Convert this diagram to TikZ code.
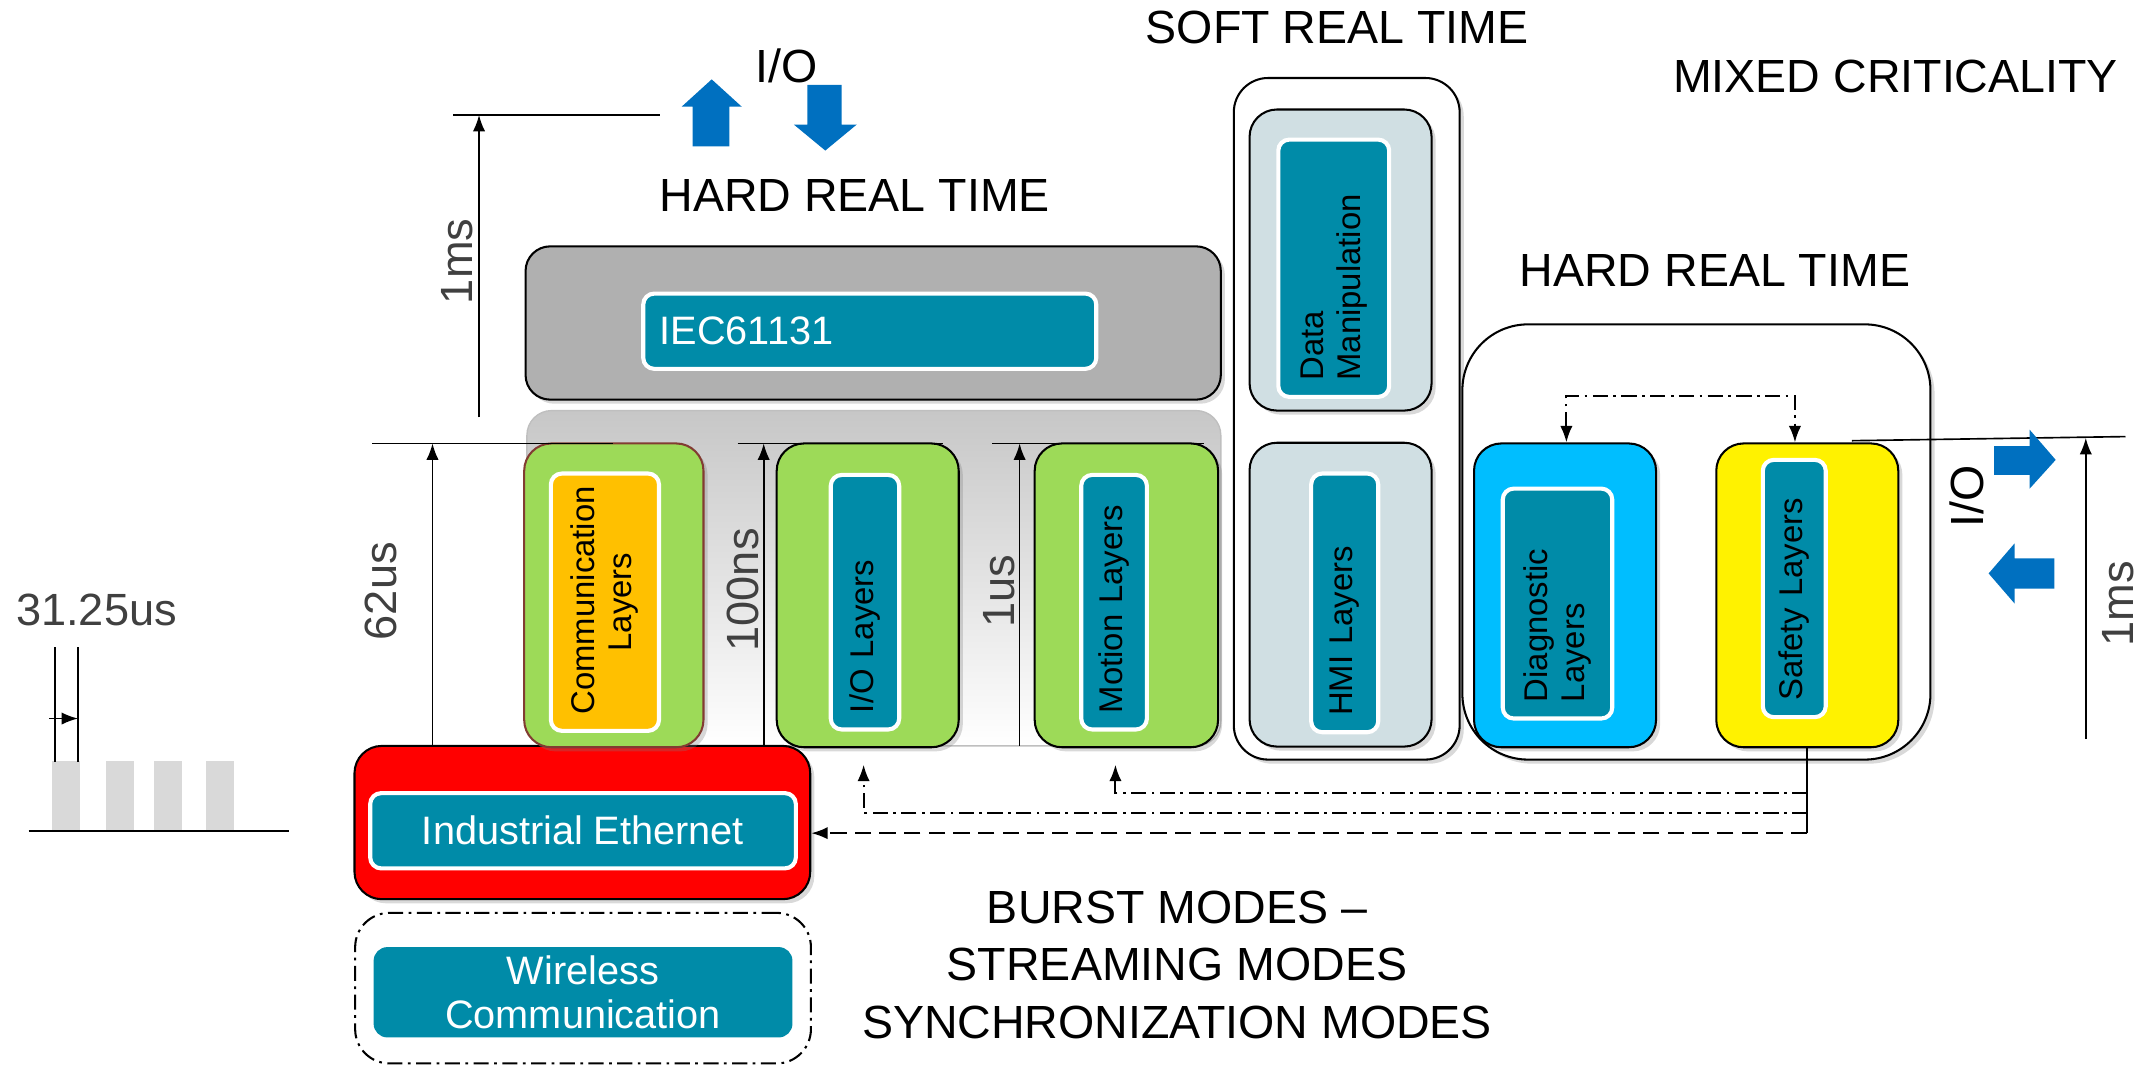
\documentclass[tikz,border=0pt]{standalone}
\usepackage{fontspec}
\setmainfont{Liberation Sans}
\usetikzlibrary{arrows.meta,shadows}
\definecolor{tealfill}{RGB}{0,139,168}
\definecolor{greenfill}{RGB}{157,218,88}
\definecolor{orangefill}{RGB}{255,192,0}
\definecolor{grayfill}{RGB}{176,176,176}
\definecolor{hmifill}{RGB}{208,223,227}
\definecolor{cyanfill}{RGB}{0,190,255}
\definecolor{iofill}{RGB}{0,112,192}
\definecolor{dimtext}{RGB}{64,64,64}
\definecolor{barfill}{RGB}{217,217,217}
\definecolor{commedge}{RGB}{130,60,50}
\newcommand\hdfont{\fontsize{34}{42}\selectfont}
\newcommand\dmfont{\fontsize{33}{38}\selectfont}
\newcommand\bxfont{\fontsize{29}{32}\selectfont}
\newcommand\lyfont{\fontsize{24}{27}\selectfont}
\begin{document}
\begin{tikzpicture}[x=1pt,y=-1pt,
    shadebox/.style={drop shadow={opacity=0.3,shadow xshift=3pt,shadow yshift=-3pt}},
    casebox/.style={draw,fill=white,line width=1.5pt,rounded corners=#1,shadebox,inner sep=0pt},
    layerbox/.style={draw,line width=1.5pt,rounded corners=20pt,shadebox,inner sep=0pt},
    inlaybox/.style={fill=tealfill,draw=white,line width=3pt,rounded corners=8pt,inner sep=0pt},
    vlaybox/.style={inlaybox,rotate=90,inner xsep=12pt,align=left,font=\lyfont},
    headtext/.style={font=\hdfont},
    dimlabel/.style={font=\dmfont,text=dimtext,rotate=90},
    dimline/.style={line width=1.2pt},
    linktip/.style={-{Latex[length=12pt,width=9pt]}},
    dimarrow/.style={dimline,linktip},
    dashline/.style={line width=1.5pt,dash pattern=on 12pt off 6pt,linktip},
    dashdotline/.style={line width=1.5pt,dash pattern=on 11pt off 4pt on 2pt off 4pt}]
    \useasboundingbox (0,0) rectangle (1568,778);
    \foreach \bx in {38,77.5,112.5,150.5}
        \fill[barfill] (\bx,556) rectangle ++(20.5,51);
    \draw[dimline] (21,607) -- (211,607);
    \draw[dimline] (40,473) -- (40,557) (57,473) -- (57,557);
    \draw[dimarrow] (36,525) -- (57,525);
    \node[font=\dmfont,text=dimtext] (cycle) at (70.5,446) {31.25us};

    \node[draw=black!25,line width=1pt,rounded corners=18pt,top color=black!22,middle color=white,bottom color=white,minimum width=507pt,minimum height=245pt,inner sep=0pt] (stack) at (638.5,422.5) {};
    \node[layerbox,fill=red,minimum width=333pt,minimum height=112pt] (ether) at (425.5,601) {};
    \node[inlaybox,minimum width=311pt,minimum height=55pt,font=\bxfont,text=white] (etherin) at (426,607) {Industrial Ethernet};
    \node[layerbox,fill=greenfill,draw=commedge,minimum width=131pt,minimum height=222pt] (comm) at (448.5,435) {};
    \node[vlaybox,fill=orangefill,align=center,minimum width=188pt,minimum height=79pt,text width=164pt] (commin) at (442,440) {Communication\\Layers};
    \node[layerbox,fill=greenfill,minimum width=133pt,minimum height=222pt] (io) at (634,435) {};
    \node[vlaybox,minimum width=186pt,minimum height=50pt,text width=162pt] (ioin) at (632,440) {I/O Layers};
    \node[layerbox,fill=greenfill,minimum width=134pt,minimum height=222pt] (motion) at (823,435) {};
    \node[vlaybox,minimum width=186pt,minimum height=48pt,text width=162pt] (motionin) at (814,440) {Motion Layers};
    \node[layerbox,fill=grayfill,rounded corners=18pt,minimum width=508pt,minimum height=112pt] (plc) at (638,236) {};
    \node[inlaybox,minimum width=331pt,minimum height=55pt,text width=307pt,font=\bxfont,text=white] (plcin) at (635.5,242) {IEC61131};

    \node[casebox=25pt,minimum width=165pt,minimum height=498pt] (softcase) at (984,306) {};
    \node[layerbox,fill=hmifill,minimum width=133pt,minimum height=220pt] (data) at (979.5,190) {};
    \node[vlaybox,minimum width=188pt,minimum height=81pt,text width=164pt] (datain) at (974.5,196) {Data\\Manipulation};
    \node[layerbox,fill=hmifill,minimum width=133pt,minimum height=222pt] (hmi) at (979.5,434.5) {};
    \node[vlaybox,minimum width=189pt,minimum height=49pt,text width=165pt] (hmiin) at (982.5,440.5) {HMI Layers};

    \node[casebox=48pt,minimum width=342pt,minimum height=318pt] (hardcase) at (1239.5,396) {};
    \node[layerbox,fill=cyanfill,minimum width=133pt,minimum height=222pt] (diag) at (1143.5,435) {};
    \node[vlaybox,minimum width=168pt,minimum height=80pt,text width=144pt] (diagin) at (1138,441) {Diagnostic\\Layers};
    \node[layerbox,fill=yellow,minimum width=133pt,minimum height=222pt] (safety) at (1320.5,435) {};
    \node[vlaybox,minimum width=188pt,minimum height=46pt,text width=164pt] (safetyin) at (1311,430) {Safety Layers};

    \node[draw,dashdotline,rounded corners=25pt,minimum width=333pt,minimum height=110pt,inner sep=0pt] (radio) at (426,722) {};
    \node[fill=tealfill,rounded corners=10pt,minimum width=306pt,minimum height=66pt,align=center,font=\bxfont,text=white] (radioin) at (426,725) {Wireless\\Communication};

    \node[headtext] (iotop) at (575,48) {I/O};
    \node[headtext] (hardleft) at (624.5,142.5) {HARD REAL TIME};
    \node[headtext] (soft) at (977,20) {SOFT REAL TIME};
    \node[headtext] (mixed) at (1385,56) {MIXED CRITICALITY};
    \node[headtext] (hardright) at (1253,197.5) {HARD REAL TIME};
    \node[headtext,rotate=90] (ioright) at (1437,363) {I/O};
    \node[headtext,align=center] (modes) at (860,705) {BURST MODES –\\STREAMING MODES\\SYNCHRONIZATION MODES};

    \node[dimlabel] (plcms) at (334,191) {1ms};
    \node[dimlabel] (commus) at (278,432) {62us};
    \node[dimlabel] (ions) at (543,431) {100ns};
    \node[dimlabel] (motionus) at (730,432) {1us};
    \node[dimlabel] (safetyms) at (1548,441) {1ms};
    \draw[dimline] (331,84) -- (482,84);
    \draw[dimarrow] (350,305) -- (350,84);
    \draw[dimline] (272,324) -- (448,324);
    \draw[dimarrow] (316,545) -- (316,324);
    \draw[dimline] (539,324) -- (689,324);
    \draw[dimarrow] (558,545) -- (558,324);
    \draw[dimline] (725,324) -- (880,324);
    \draw[dimarrow] (745,545) -- (745,324);
    \draw[dimline] (1353,322) -- (1553,319);
    \draw[dimarrow] (1524,540) -- (1524,320);

    \fill[iofill] (520,58) -- (542,78) -- (533,78) -- (533,107) -- (506,107) -- (506,78) -- (498,78) -- cycle;
    \fill[iofill] (603,110) -- (626,91) -- (615,91) -- (615,62) -- (590,62) -- (590,91) -- (580,91) -- cycle;
    \fill[iofill] (1502,336) -- (1483,314) -- (1483,326) -- (1457,326) -- (1457,347) -- (1483,347) -- (1483,357) -- cycle;
    \fill[iofill] (1453,419) -- (1472,397) -- (1472,408) -- (1501,408) -- (1501,430) -- (1472,430) -- (1472,441) -- cycle;

    \coordinate (bus) at ([yshift=-62pt]safety.south);
    \draw[line width=1.5pt] (safety.south) -- (bus);
    \draw[dashline] (bus) -- (bus -| ether.east);
    \draw[dashdotline,linktip] ([yshift=15pt]bus) -| ([xshift=-3pt,yshift=-12pt]io.south);
    \draw[dashdotline,linktip] ([yshift=29pt]bus) -| ([xshift=-8pt,yshift=-12pt]motion.south);
    \draw[dashdotline,{Latex[length=12pt,width=9pt]}-{Latex[length=12pt,width=9pt]}] ([xshift=1pt]diag.north) -- ++(0,-34) -| ([xshift=-9pt]safety.north);
\end{tikzpicture}
\end{document}
